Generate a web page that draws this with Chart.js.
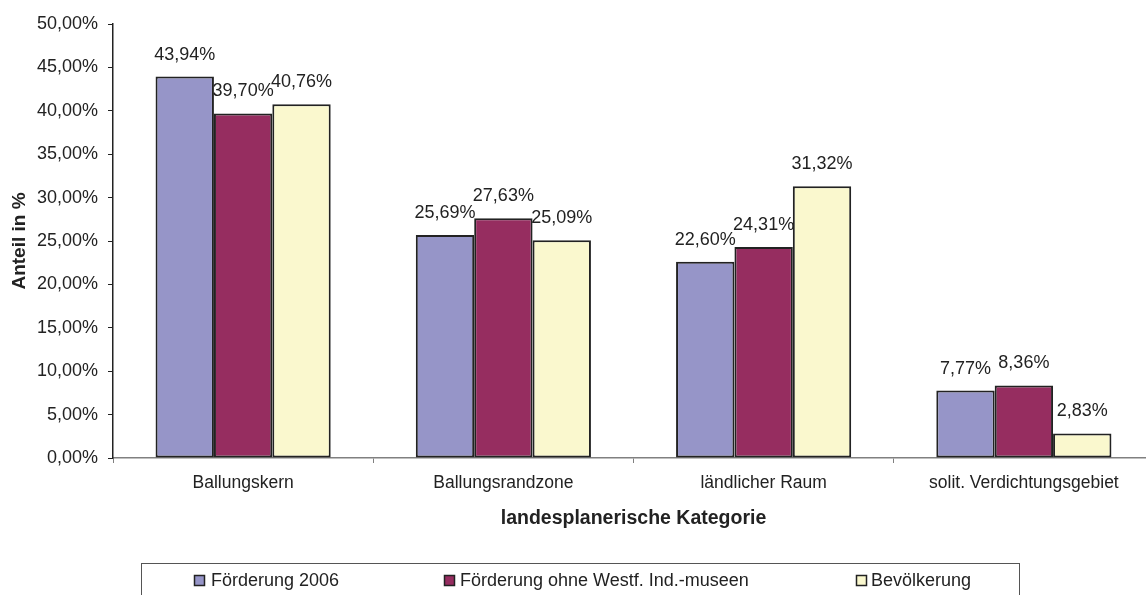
<!DOCTYPE html>
<html>
<head>
<meta charset="utf-8">
<script src="https://cdn.jsdelivr.net/npm/chart.js@4/dist/chart.umd.min.js"></script>
<style>
  html, body { margin: 0; padding: 0; background: #ffffff; overflow: hidden; }
  #wrap { width: 1146px; height: 595px; position: relative; overflow: hidden; }
</style>
</head>
<body>
<div id="wrap"><canvas id="c" width="1154" height="595"></canvas></div>
<script>
const categories = ["Ballungskern", "Ballungsrandzone", "ländlicher Raum", "solit. Verdichtungsgebiet"];
const seriesNames = ["Förderung 2006", "Förderung ohne Westf. Ind.-museen", "Bevölkerung"];
const foerderung2006 = [43.94, 25.69, 22.60, 7.77];
const foerderungOhne = [39.70, 27.63, 24.31, 8.36];
const bevoelkerung = [40.76, 25.09, 31.32, 2.83];
const yTitle = "Anteil in %";
const xTitle = "landesplanerische Kategorie";

const colors = ["#9695C8", "#962D60", "#FAF8CE"];
const FONT = "'Liberation Sans', Arial, sans-serif";
const TEXT = "#222222";

function fmt(v) { return v.toFixed(2).replace('.', ',') + '%'; }

const labelPlugin = {
  id: 'valueLabels',
  afterDatasetsDraw(chart) {
    const ctx = chart.ctx;
    ctx.save();
    ctx.font = "18px " + FONT;
    ctx.fillStyle = TEXT;
    ctx.textAlign = 'center';
    ctx.textBaseline = 'middle';
    chart.data.datasets.forEach((ds, i) => {
      const meta = chart.getDatasetMeta(i);
      meta.data.forEach((bar, j) => {
        ctx.fillText(fmt(ds.data[j]), bar.x, bar.y - 22);
      });
    });
    ctx.restore();
  }
};

const legendPlugin = {
  id: 'boxLegend',
  afterDraw(chart) {
    const ctx = chart.ctx;
    ctx.save();
    ctx.strokeStyle = "#555555";
    ctx.lineWidth = 1;
    ctx.strokeRect(141.5, 563.5, 878, 100);
    const sq = [194, 444, 856];
    const tx = [211, 460, 871];
    ctx.font = "18px " + FONT;
    ctx.textBaseline = 'middle';
    ctx.textAlign = 'left';
    chart.data.datasets.forEach((ds, i) => {
      ctx.fillStyle = ds.backgroundColor;
      ctx.fillRect(sq[i] + 0.5, 575.5, 10, 10);
      ctx.strokeStyle = "#222222";
      ctx.lineWidth = 1.5;
      ctx.strokeRect(sq[i] + 0.5, 575.5, 10, 10);
      ctx.fillStyle = TEXT;
      ctx.fillText(ds.label, tx[i], 581);
    });
    ctx.restore();
  }
};

new Chart(document.getElementById('c'), {
  type: 'bar',
  data: {
    labels: categories,
    datasets: [
      { label: seriesNames[0], data: foerderung2006, backgroundColor: colors[0] },
      { label: seriesNames[1], data: foerderungOhne, backgroundColor: colors[1] },
      { label: seriesNames[2], data: bevoelkerung, backgroundColor: colors[2] }
    ].map(d => Object.assign(d, { borderColor: "#222222", borderWidth: 2, borderSkipped: false,
                                  categoryPercentage: 0.673, barPercentage: 1.0 }))
  },
  options: {
    responsive: false,
    animation: false,
    devicePixelRatio: 1,
    layout: { padding: { top: 24, right: 0, bottom: 65, left: 0 } },
    plugins: { legend: { display: false }, tooltip: { enabled: false } },
    scales: {
      x: {
        grid: { display: true, drawOnChartArea: false, drawTicks: true, tickLength: 5, tickColor: "#808080", offset: true },
        border: { display: true, color: "#808080", width: 1.5 },
        ticks: { color: TEXT, font: { family: FONT, size: 17.5 }, padding: 10, maxRotation: 0, autoSkip: false },
        title: { display: true, text: xTitle, color: TEXT, font: { family: FONT, size: 19.5, weight: 'bold' }, padding: { top: 0, bottom: 0 } },
        afterFit(scale) { scale.height = 72; }
      },
      y: {
        min: 0, max: 50,
        grid: { display: true, drawOnChartArea: false, drawTicks: true, tickLength: 5, tickColor: "#222222" },
        border: { display: true, color: "#222222", width: 1.5 },
        ticks: { stepSize: 5, color: TEXT, font: { family: FONT, size: 18 }, padding: 10, callback: v => fmt(v) },
        title: { display: true, text: yTitle, color: TEXT, font: { family: FONT, size: 19, weight: 'bold' }, padding: { top: 8, bottom: 0 } },
        afterFit(scale) { scale.width = 113; }
      }
    }
  },
  plugins: [labelPlugin, legendPlugin]
});
</script>
</body>
</html>
